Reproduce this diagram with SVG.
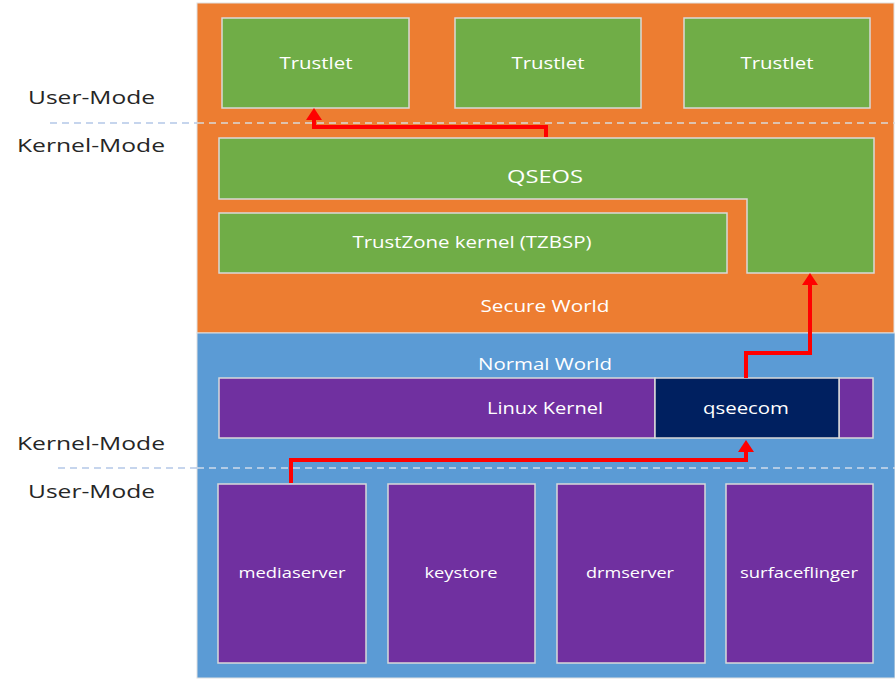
<svg xmlns="http://www.w3.org/2000/svg" width="895" height="681" viewBox="0 0 895 681">
<defs>
<style>
.box{stroke:#d9d9d9;stroke-width:1.5}
.g{fill:#70AD47}
.p{fill:#7030A0}
.t{font-family:"Open Sans","Noto Sans","Liberation Sans",sans-serif;fill:#ffffff;text-anchor:middle;dominant-baseline:central}
.lbl{font-family:"Open Sans","Noto Sans","Liberation Sans",sans-serif;fill:#262626;font-size:19px;dominant-baseline:central}
.arrow{fill:none;stroke:#FF0000;stroke-width:4;stroke-linejoin:miter;marker-end:url(#ah)}
.dash{stroke-width:1.3;stroke-dasharray:7,5;fill:none}
</style>
<marker id="ah" markerUnits="userSpaceOnUse" markerWidth="12" markerHeight="16" refX="4" refY="8" orient="auto" viewBox="0 0 12 16">
<path d="M0,0 L12,8 L0,16 z" fill="#FF0000"/>
</marker>
</defs>
<rect width="895" height="681" fill="#ffffff"/>
<g id="secure-world">
<rect x="197" y="3" width="697" height="330" fill="#ED7D31" stroke="#e0e0e0" stroke-width="1"/>
<text class="t" x="545" y="306" font-size="16" textLength="129" lengthAdjust="spacingAndGlyphs">Secure World</text>
</g>
<g id="normal-world">
<rect x="197" y="333" width="698" height="345" fill="#5B9BD5" stroke="#e0e0e0" stroke-width="1"/>
<text class="t" x="545" y="364" font-size="16" textLength="134" lengthAdjust="spacingAndGlyphs">Normal World</text>
</g>
<g id="dividers">
<line class="dash" x1="50" y1="123" x2="197" y2="123" stroke="#b4c7e7"/>
<line class="dash" x1="197" y1="123" x2="895" y2="123" stroke="#d9d9d9"/>
<line class="dash" x1="58" y1="468" x2="197" y2="468" stroke="#b4c7e7"/>
<line class="dash" x1="197" y1="468" x2="895" y2="468" stroke="#d0dcea"/>
</g>
<g id="mode-labels">
<text class="lbl" x="28" y="97" textLength="127" lengthAdjust="spacingAndGlyphs">User-Mode</text>
<text class="lbl" x="17" y="145" textLength="148" lengthAdjust="spacingAndGlyphs">Kernel-Mode</text>
<text class="lbl" x="17" y="443" textLength="148" lengthAdjust="spacingAndGlyphs">Kernel-Mode</text>
<text class="lbl" x="28" y="491" textLength="127" lengthAdjust="spacingAndGlyphs">User-Mode</text>
</g>
<g id="trustlet-1">
<rect class="box g" x="222" y="18" width="187" height="90"/>
<text class="t" x="316" y="63" font-size="16" textLength="73" lengthAdjust="spacingAndGlyphs">Trustlet</text>
</g>
<g id="trustlet-2">
<rect class="box g" x="455" y="18" width="186" height="90"/>
<text class="t" x="548" y="63" font-size="16" textLength="73" lengthAdjust="spacingAndGlyphs">Trustlet</text>
</g>
<g id="trustlet-3">
<rect class="box g" x="684" y="18" width="186" height="90"/>
<text class="t" x="777" y="63" font-size="16" textLength="73" lengthAdjust="spacingAndGlyphs">Trustlet</text>
</g>
<g id="qseos">
<path class="box g" d="M219,138 H874 V273 H747 V199 H219 Z"/>
<text class="t" x="545" y="176" font-size="18" textLength="76" lengthAdjust="spacingAndGlyphs">QSEOS</text>
</g>
<g id="tzbsp">
<rect class="box g" x="219" y="213" width="508" height="60"/>
<text class="t" x="472" y="242" font-size="16" textLength="239" lengthAdjust="spacingAndGlyphs">TrustZone kernel (TZBSP)</text>
</g>
<g id="linux-kernel">
<rect class="box p" x="219" y="378" width="436" height="60"/>
<rect class="box p" x="839" y="378" width="34" height="60"/>
<text class="t" x="545" y="408" font-size="16" textLength="116" lengthAdjust="spacingAndGlyphs">Linux Kernel</text>
</g>
<g id="qseecom">
<rect class="box" x="655" y="378" width="184" height="60" fill="#002060"/>
<text class="t" x="746" y="408" font-size="16" textLength="86" lengthAdjust="spacingAndGlyphs">qseecom</text>
</g>
<g id="mediaserver">
<rect class="box p" x="218" y="484" width="148" height="179"/>
<text class="t" x="292" y="572" font-size="15" textLength="107" lengthAdjust="spacingAndGlyphs">mediaserver</text>
</g>
<g id="keystore">
<rect class="box p" x="388" y="484" width="147" height="179"/>
<text class="t" x="461" y="572" font-size="15" textLength="73" lengthAdjust="spacingAndGlyphs">keystore</text>
</g>
<g id="drmserver">
<rect class="box p" x="557" y="484" width="148" height="179"/>
<text class="t" x="630" y="572" font-size="15" textLength="88" lengthAdjust="spacingAndGlyphs">drmserver</text>
</g>
<g id="surfaceflinger">
<rect class="box p" x="726" y="484" width="147" height="179"/>
<text class="t" x="799" y="572" font-size="15" textLength="118" lengthAdjust="spacingAndGlyphs">surfaceflinger</text>
</g>
<g id="connectors">
<path class="arrow" d="M546,137 V127 H314 V116"/>
<path class="arrow" d="M746,378 V353 H810 V281"/>
<path class="arrow" d="M291,483 V460 H746 V448"/>
</g>
</svg>
